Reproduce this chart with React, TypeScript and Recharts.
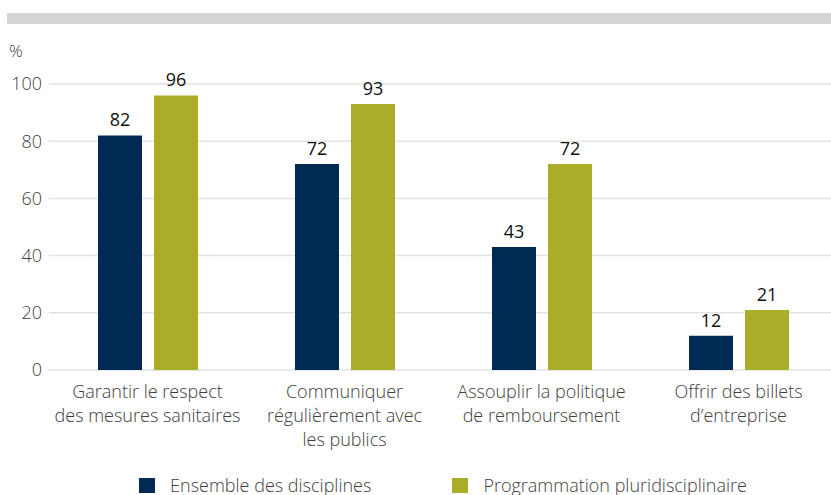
import React from "react";
import { BarChart, Bar, XAxis, YAxis, CartesianGrid, LabelList } from "recharts";

const categories = [
  "Garantir le respect\ndes mesures sanitaires",
  "Communiquer\nrégulièrement avec\nles publics",
  "Assouplir la politique\nde remboursement",
  "Offrir des billets\nd\u2019entreprise",
];
const ensemble = [82, 72, 43, 12];
const pluri = [96, 93, 72, 21];
const seriesNames = ["Ensemble des disciplines", "Programmation pluridisciplinaire"];
const yTicks = [0, 20, 40, 60, 80, 100];
const edgeTicks = [0, 1, 2, 3, 4];

const BLUE = "#002a54";
const GREEN = "#a9ad27";
const FONT = "'Open Sans', sans-serif";
const TXT = "#404040";

const data = categories.map((name, i) => ({ name, ensemble: ensemble[i], pluri: pluri[i] }));

const CatTick = (props: any) => {
  const { x, y, payload } = props;
  const lines = String(payload.value).split("\n");
  return (
    <g>
      {lines.map((l, i) => (
        <text
          key={i}
          x={x}
          y={y + 28 + i * 24}
          textAnchor="middle"
          fontSize={18}
          fontWeight={300}
          fill={TXT}
          fontFamily={FONT}
        >
          {l}
        </text>
      ))}
    </g>
  );
};

export default function App() {
  return (
    <div
      style={{
        position: "absolute",
        left: 0,
        top: 0,
        width: 831,
        height: 495,
        overflow: "hidden",
        background: "#fff",
        fontFamily: FONT,
      }}
    >
      <div style={{ position: "absolute", left: 7, top: 13, width: 830, height: 11, background: "#d6d6d6" }} />
      <div style={{ position: "absolute", left: 9, top: 40, fontSize: 17, fontWeight: 300, color: TXT, lineHeight: "22px" }}>%</div>
      <div style={{ position: "absolute", left: 0, top: 0 }}>
        <BarChart
          width={837}
          height={495}
          data={data}
          margin={{ top: 84, right: 0, bottom: 45, left: 0 }}
          barGap={12}
        >
          <CartesianGrid vertical={false} stroke="#e3e3e3" strokeWidth={1.5} xAxisId="cat" />
          <XAxis
            xAxisId="edges"
            type="number"
            domain={[0, 4]}
            ticks={edgeTicks}
            allowDataOverflow
            height={0}
            tick={false}
            tickSize={7}
            axisLine={{ stroke: "#7a7a7a", strokeWidth: 1.5 }}
            tickLine={{ stroke: "#555", strokeWidth: 1 }}
          />
          <XAxis
            xAxisId="cat"
            dataKey="name"
            height={80}
            axisLine={false}
            tickLine={false}
            tickSize={0}
            tickMargin={0}
            interval={0}
            tick={<CatTick />}
          />
          <YAxis
            width={49}
            domain={[0, 100]}
            ticks={yTicks}
            axisLine={false}
            tickLine={false}
            tickSize={0}
            tickMargin={7}
            tick={{ fontSize: 18, fontWeight: 300, fill: TXT, fontFamily: FONT }}
          />
          <Bar xAxisId="cat" dataKey="ensemble" name={seriesNames[0]} fill={BLUE} barSize={44} isAnimationActive={false}>
            <LabelList dataKey="ensemble" position="top" offset={9} fontSize={18} fill="#111" fontFamily={FONT} />
          </Bar>
          <Bar xAxisId="cat" dataKey="pluri" name={seriesNames[1]} fill={GREEN} barSize={44} isAnimationActive={false}>
            <LabelList dataKey="pluri" position="top" offset={9} fontSize={18} fill="#111" fontFamily={FONT} />
          </Bar>
        </BarChart>
      </div>
      <div
        style={{
          position: "absolute",
          left: 49,
          width: 788,
          top: 474,
          display: "flex",
          justifyContent: "center",
          alignItems: "center",
          gap: 81,
          fontSize: 18,
          fontWeight: 300,
          color: TXT,
          lineHeight: "22px",
        }}
      >
        {[BLUE, GREEN].map((c, i) => (
          <div key={i} style={{ display: "flex", alignItems: "center" }}>
            <span style={{ display: "inline-block", width: 16, height: 15, background: c, marginRight: 15 }} />
            <span>{seriesNames[i]}</span>
          </div>
        ))}
      </div>
    </div>
  );
}
